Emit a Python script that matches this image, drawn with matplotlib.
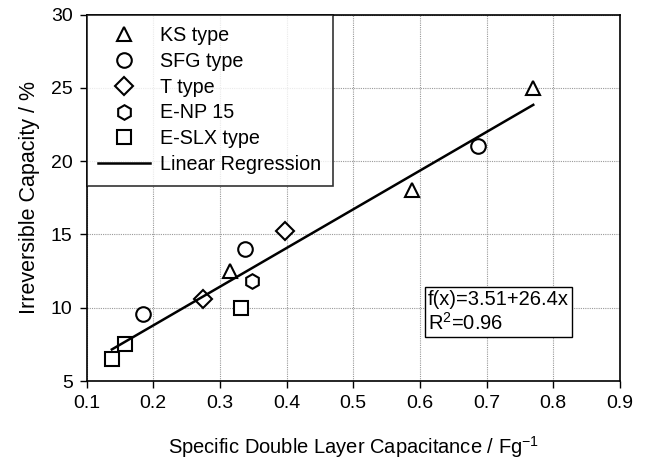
import matplotlib
matplotlib.use("Agg")
import matplotlib.pyplot as plt
import numpy as np

plt.rcParams['font.family'] = ['Liberation Sans', 'DejaVu Sans']

ks_x = [0.315, 0.588, 0.770]
ks_y = [12.5, 18.0, 25.0]
sfg_x = [0.185, 0.338, 0.687]
sfg_y = [9.6, 14.0, 21.0]
t_x = [0.275, 0.398]
t_y = [10.6, 15.2]
enp_x = [0.348]
enp_y = [11.8]
eslx_x = [0.138, 0.158, 0.332]
eslx_y = [6.5, 7.5, 10.0]
fit_a, fit_b = 3.51, 26.4
fit_range = [0.138, 0.770]

fig = plt.figure(figsize=(6.47, 4.62), dpi=100)
ax = fig.add_axes([0.1337, 0.1753, 0.8245, 0.7933])

mk = dict(linestyle='none', markerfacecolor='white', markeredgecolor='black',
          markeredgewidth=1.5, color='black')
ax.plot(ks_x, ks_y, marker='^', markersize=10.5, label='KS type', **mk)
ax.plot(sfg_x, sfg_y, marker='o', markersize=10.5, label='SFG type', **mk)
ax.plot(t_x, t_y, marker='D', markersize=9, label='T type', **mk)
ax.plot(enp_x, enp_y, marker='h', markersize=10.5, label='E-NP 15', **mk)
ax.plot(eslx_x, eslx_y, marker='s', markersize=9.5, label='E-SLX type', **mk)
xf = np.array(fit_range)
ax.plot(xf, fit_a + fit_b * xf, color='black', linewidth=1.8, label='Linear Regression')

ax.set_xlim(0.1, 0.9)
ax.set_ylim(5, 30)
ax.set_xticks(np.arange(0.1, 0.91, 0.1))
ax.set_xticklabels(['0.1', '0.2', '0.3', '0.4', '0.5', '0.6', '0.7', '0.8', '0.9'])
ax.set_yticks([5, 10, 15, 20, 25, 30])
ax.grid(True, color='#999999', linestyle=(0, (1, 1)), linewidth=0.8)
ax.set_axisbelow(True)
ax.tick_params(axis='both', direction='out', length=5, width=1, labelsize=14, pad=5)
for s in ax.spines.values():
    s.set_linewidth(1.2)

ax.set_xlabel('Specific Double Layer Capacitance / Fg$^{\\mathregular{-1}}$', fontsize=14.5, labelpad=16)
ax.set_ylabel('Irreversible Capacity / %', fontsize=15.5, labelpad=8)

leg = ax.legend(loc='upper left', bbox_to_anchor=(0, 1), fontsize=14.2, frameon=True,
                fancybox=False, edgecolor='black', borderaxespad=0, handlelength=2.6,
                handletextpad=0.55, labelspacing=0.34, borderpad=0.6)
leg.get_frame().set_linewidth(1.2)

ax.text(0.612, 11.2, 'f(x)=3.51+26.4x\nR$^{\\mathregular{2}}$=0.96', fontsize=14.5,
        va='top', ha='left', linespacing=1.15,
        bbox=dict(boxstyle='square,pad=0.15', facecolor='white', edgecolor='black', linewidth=1))

fig.savefig('out.png', dpi=100)
